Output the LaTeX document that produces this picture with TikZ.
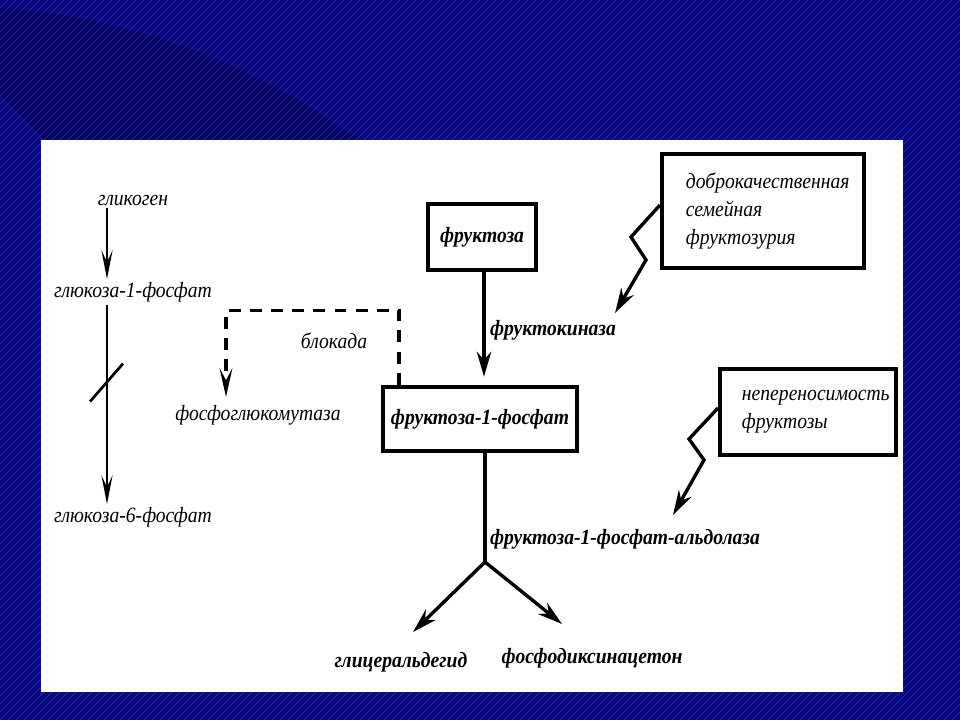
\documentclass[tikz,border=0pt]{standalone}
\usepackage{fontspec}
\setmainfont{Liberation Serif}[FakeStretch=0.9]
\usepackage{tikz}
\usetikzlibrary{arrows.meta}
\usetikzlibrary{calc,positioning}

\definecolor{navy}{RGB}{10,10,128}
\definecolor{navydark}{RGB}{2,2,88}
\definecolor{stripe}{RGB}{130,130,235}

\tikzset{
	lbl/.style={font=\fontsize{15.5}{20}\selectfont\itshape, inner sep=2pt},
	blbl/.style={font=\fontsize{15.5}{20}\selectfont\bfseries\itshape, inner sep=2pt},
	box/.style={draw, line width=2.8pt, align=left},
	arr/.style={line width=2.4pt, -{Stealth[length=0.62cm,width=0.36cm,inset=0.2cm]}},
	thinarr/.style={line width=1.9pt, -{Stealth[length=0.72cm,width=0.28cm,inset=0.3cm]}},
	dsh/.style={line width=2.5pt, dash pattern=on 8.5pt off 6.5pt, -{Stealth[length=0.72cm,width=0.32cm,inset=0.3cm]}},
}

\begin{document}
\begin{tikzpicture}[x=0.025cm,y=-0.025cm]
			\begin{scope}
				\fill[navy] (0,0) rectangle (960,720);
				\clip (0,0) rectangle (960,720);
				\fill[navydark, opacity=0.6] (0,8) .. controls (120,15) and (250,60) .. (360,140) -- (45,140) -- (0,95) -- cycle;
				\foreach \i in {-720,-712,...,960}
					\draw[stripe, opacity=0.35, line width=0.3pt] (\i,720) -- (\i+720,0);
				\fill[white] (41,140) rectangle (903,692);
			\end{scope}

			\node[lbl] (glyk) at (133,200) {гликоген};
			\node[lbl] (g1p) at (133,292) {глюкоза-1-фосфат};
			\node[lbl] (g6p) at (133,517) {глюкоза-6-фосфат};
			\node[lbl] (pgm) at (258,415) {фосфоглюкомутаза};
			\node[lbl] (blk) at (334,341) {блокада};

			\draw[thinarr] ([xshift=-0.65cm]glyk.south) -- ([xshift=-0.65cm]g1p.north);
			\draw[thinarr] ([xshift=-0.65cm]g1p.south) -- coordinate[pos=0.39] (stop) ([xshift=-0.65cm]g6p.north);
			\draw[line width=1.9pt] ($(stop)+(-17,19)$) -- ($(stop)+(16,-19)$);

			\node[box, blbl, minimum width=2.7cm, minimum height=1.67cm] (fru) at (482,237) {фруктоза};
			\node[box, blbl, minimum width=4.85cm, minimum height=1.62cm] (fp) at (480,419) {фруктоза-1-фосфат};
			\node[blbl, anchor=west] (fk) at (487,330) {фруктокиназа};
			\node[blbl, anchor=west] (ald) at (487,539) {фруктоза-1-фосфат-альдолаза};
			\node[blbl] (gal) at (401,662) {глицеральдегид};
			\node[blbl] (dhap) at (592,658) {фосфодиксинацетон};

			\node[box, lbl, text width=3.85cm, inner xsep=0.6cm, minimum height=2.85cm] (dfb) at (763,211) {доброкачественная\\семейная\\фруктозурия};
			\node[box, lbl, text width=3.3cm, inner xsep=0.55cm, minimum height=2.17cm] (nf) at (808,412) {непереносимость\\фруктозы};

			\coordinate (fktip) at (615,313);
			\coordinate (aldtip) at (673,515);
			\coordinate (split) at (485,562);
			\coordinate (galtip) at (413,632);
			\coordinate (dhaptip) at (562,624);
			\coordinate (pgmtip) at (226,397);

			\draw[arr, shorten >=0.2cm] ([xshift=0.05cm]fru.south) -- ([xshift=0.05cm]fru.south |- fp.north);
			\draw[line width=2.4pt] (split |- fp.south) -- (split);
			\draw[arr] (split) -- (galtip);
			\draw[arr] (split) -- (dhaptip);
			\draw[dsh] ([xshift=0.45cm]fp.north west) -- ++(0,-74) -| (pgmtip);

			\draw[arr, line join=miter] ([yshift=0.15cm]dfb.west) -- ++(-29,32) -- ++(15,23) -- (fktip);
			\draw[arr, line join=miter] ([yshift=0.1cm]nf.west) -- ++(-29,31) -- ++(15,21) -- (aldtip);
		\end{tikzpicture}
\end{document}
